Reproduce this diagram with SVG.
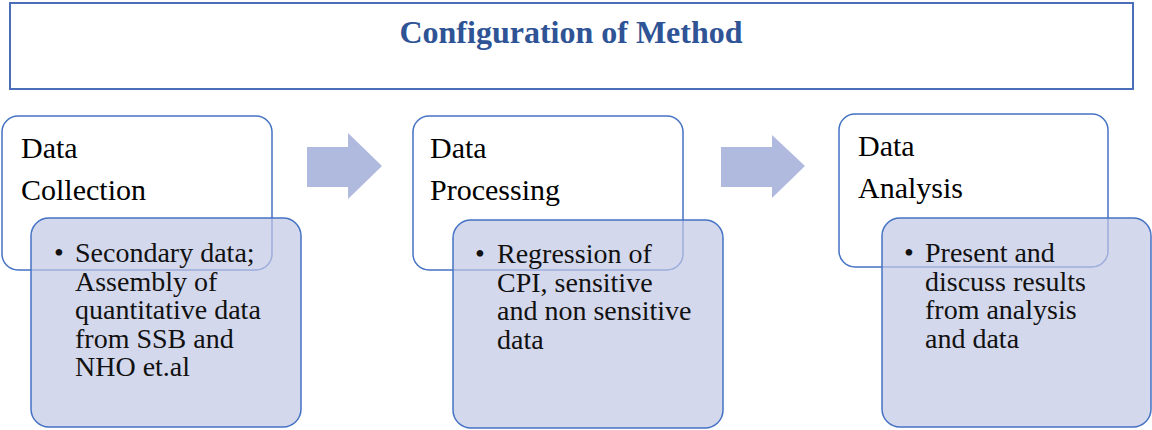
<svg xmlns="http://www.w3.org/2000/svg" width="1152" height="430" viewBox="0 0 1152 430">
<style>
.title{font-family:"Liberation Serif","Times New Roman",serif;font-weight:bold;font-size:32px;fill:#2f5496}
.head{font-family:"Liberation Serif","Times New Roman",serif;font-size:30px;fill:#000}
.body{font-family:"Liberation Serif","Times New Roman",serif;font-size:28px;fill:#111}
.wbox{fill:#fff;stroke:#4472c4;stroke-width:1.5}
.bbox{fill:#c2c7e4;fill-opacity:0.7;stroke:#4472c4;stroke-width:1.5}
.arrow{fill:#b0b9de}
</style>
<rect width="1152" height="430" fill="#fff"/>
<g id="title">
<rect x="10" y="3" width="1123" height="86" fill="#fff" stroke="#4a6fb8" stroke-width="2"/>
<text class="title" x="571" y="43" text-anchor="middle">Configuration of Method</text>
</g>
<g id="connectors">
<polygon class="arrow" points="307,147 348,147 348,133 382,166 348,199 348,187 307,187"/>
<polygon class="arrow" points="721,147 772,147 772,135 805,166 772,198 772,187 721,187"/>
</g>
<g id="node-collection">
<rect class="wbox" x="2" y="116" width="270" height="154" rx="16"/>
<text class="head" x="21" y="158">Data</text>
<text class="head" x="21" y="200">Collection</text>
<rect class="bbox" x="31" y="218" width="270" height="209" rx="18"/>
<text class="body" x="54" y="262">•</text>
<text class="body" x="75" y="262">Secondary data;</text>
<text class="body" x="75" y="290.5">Assembly of</text>
<text class="body" x="75" y="319">quantitative data</text>
<text class="body" x="75" y="347.5">from SSB and</text>
<text class="body" x="75" y="376">NHO et.al</text>
</g>
<g id="node-processing">
<rect class="wbox" x="413" y="116" width="270" height="154" rx="16"/>
<text class="head" x="430" y="158">Data</text>
<text class="head" x="430" y="200">Processing</text>
<rect class="bbox" x="453" y="220" width="270" height="208" rx="18"/>
<text class="body" x="475" y="263">•</text>
<text class="body" x="497" y="263">Regression of</text>
<text class="body" x="497" y="291.5">CPI, sensitive</text>
<text class="body" x="497" y="320">and non sensitive</text>
<text class="body" x="497" y="348.5">data</text>
</g>
<g id="node-analysis">
<rect class="wbox" x="839" y="114" width="269" height="153" rx="16"/>
<text class="head" x="858" y="156">Data</text>
<text class="head" x="858" y="198">Analysis</text>
<rect class="bbox" x="882" y="218" width="269" height="209" rx="18"/>
<text class="body" x="904" y="262">•</text>
<text class="body" x="925" y="262">Present and</text>
<text class="body" x="925" y="290.5">discuss results</text>
<text class="body" x="925" y="319">from analysis</text>
<text class="body" x="925" y="347.5">and data</text>
</g>
</svg>
